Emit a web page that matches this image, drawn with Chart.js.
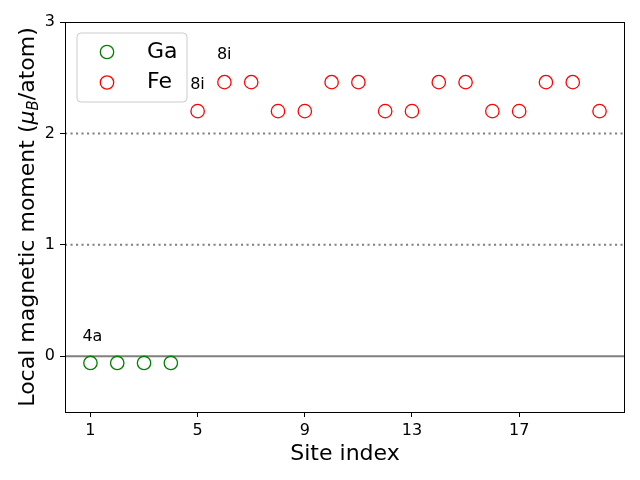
<!DOCTYPE html>
<html><head><meta charset="utf-8">
<script src="https://cdn.jsdelivr.net/npm/chart.js@4/dist/chart.umd.min.js"></script>
<style>html,body{margin:0;padding:0;background:#fff;}canvas{display:block;}</style>
</head><body>
<canvas id="c" width="640" height="480"></canvas>
<script>
const gaSites = [1, 2, 3, 4];
const gaMoments = [-0.06, -0.06, -0.06, -0.06];
const feSites = [5, 6, 7, 8, 9, 10, 11, 12, 13, 14, 15, 16, 17, 18, 19, 20];
const feMoments = [2.2, 2.46, 2.46, 2.2, 2.2, 2.46, 2.46, 2.2, 2.2, 2.46, 2.46, 2.2, 2.2, 2.46, 2.46, 2.2];
const xTicks = [1, 5, 9, 13, 17];
const yTicks = [0, 1, 2, 3];
const refLevels = [0, 1, 2];
const annLabels = ['4a', '8i', '8i'];
const annX = [0.7, 4.72, 5.72];
const annY = [0.14, 2.4, 2.67];
const xMin = 0.05, xMax = 20.95, yMin = -0.5, yMax = 3;

const FONT = 'DejaVu Sans';

function pts(xs, ys){ return xs.map((x,i)=>({x:x, y:ys[i]})); }

const refDatasets = refLevels.map(v => ({
  type: 'line',
  data: [{x:xMin, y:v}, {x:xMax, y:v}],
  borderColor: '#808080',
  borderWidth: 2,
  borderDash: v === 0 ? [] : [2.1, 3.4],
  borderCapStyle: 'butt',
  pointRadius: 0,
  fill: false,
  order: 10
}));

const decor = {
  id: 'decor',
  afterDraw(chart){
    const ctx = chart.ctx, a = chart.chartArea;
    const xs = chart.scales.x, ys = chart.scales.y;
    ctx.save();
    // frame
    ctx.strokeStyle = '#000'; ctx.lineWidth = 1;
    ctx.strokeRect(Math.round(a.left)+0.5, Math.round(a.top)+0.5, Math.round(a.right-a.left)-1, Math.round(a.bottom-a.top));
    // annotations
    ctx.fillStyle = '#000';
    ctx.font = '16px "' + FONT + '"';
    ctx.textAlign = 'left'; ctx.textBaseline = 'alphabetic';
    annLabels.forEach((t,i)=>{
      ctx.fillText(t, xs.getPixelForValue(annX[i]), ys.getPixelForValue(annY[i]));
    });
    // x title
    ctx.font = '22px "' + FONT + '"';
    ctx.textAlign = 'center'; ctx.textBaseline = 'middle';
    ctx.fillText('Site index', (a.left + a.right)/2, 454);
    // y title with subscript
    ctx.save();
    ctx.translate(26, (a.top + a.bottom)/2);
    ctx.rotate(-Math.PI/2);
    ctx.textBaseline = 'alphabetic'; ctx.textAlign = 'left';
    const parts = [
      {t:'Local magnetic moment (', f:'22px "' + FONT + '"', dy:0},
      {t:'\u03bc', f:'italic 22px "' + FONT + '"', dy:0},
      {t:'B', f:'italic 15px "' + FONT + '"', dy:4},
      {t:'/atom)', f:'22px "' + FONT + '"', dy:0}
    ];
    let w = 0;
    parts.forEach(p=>{ ctx.font = p.f; p.w = ctx.measureText(p.t).width; w += p.w; });
    let x = -w/2;
    parts.forEach(p=>{ ctx.font = p.f; ctx.fillText(p.t, x, 8 + p.dy); x += p.w; });
    ctx.restore();
    // legend
    const lx = 77, ly = 33, lw = 110, lh = 69, r = 4;
    ctx.beginPath();
    ctx.moveTo(lx+r, ly); ctx.lineTo(lx+lw-r, ly); ctx.quadraticCurveTo(lx+lw, ly, lx+lw, ly+r);
    ctx.lineTo(lx+lw, ly+lh-r); ctx.quadraticCurveTo(lx+lw, ly+lh, lx+lw-r, ly+lh);
    ctx.lineTo(lx+r, ly+lh); ctx.quadraticCurveTo(lx, ly+lh, lx, ly+lh-r);
    ctx.lineTo(lx, ly+r); ctx.quadraticCurveTo(lx, ly, lx+r, ly);
    ctx.closePath();
    ctx.fillStyle = 'rgba(255,255,255,0.8)'; ctx.fill();
    ctx.strokeStyle = '#cccccc'; ctx.lineWidth = 1; ctx.stroke();
    const items = [{t:'Ga', c:'green', y:52}, {t:'Fe', c:'red', y:82.5}];
    items.forEach(it=>{
      ctx.beginPath(); ctx.arc(107, it.y, 6.7, 0, Math.PI*2);
      ctx.strokeStyle = it.c; ctx.lineWidth = 1.3; ctx.stroke();
      ctx.fillStyle = '#000'; ctx.font = '22px "' + FONT + '"';
      ctx.textAlign = 'left'; ctx.textBaseline = 'middle';
      ctx.fillText(it.t, 147, it.y);
    });
    ctx.restore();
  }
};

new Chart(document.getElementById('c'), {
  type: 'scatter',
  data: {
    datasets: [
      {label:'Ga', data: pts(gaSites, gaMoments), pointStyle:'circle', pointRadius:6.7, pointHoverRadius:6.7,
       backgroundColor:'rgba(0,0,0,0)', borderColor:'green', pointBorderWidth:1.3, order:1},
      {label:'Fe', data: pts(feSites, feMoments), pointStyle:'circle', pointRadius:6.7, pointHoverRadius:6.7,
       backgroundColor:'rgba(0,0,0,0)', borderColor:'red', pointBorderWidth:1.3, order:1},
      ...refDatasets
    ]
  },
  options: {
    responsive: false, animation: false, devicePixelRatio: 1,
    layout: {padding: {top: 22, right: 15, left: 0, bottom: 0}},
    plugins: {legend: {display:false}, tooltip: {enabled:false}},
    scales: {
      x: {
        type: 'linear', min: xMin, max: xMax,
        afterBuildTicks: s => { s.ticks = xTicks.map(v=>({value:v})); },
        afterFit: s => { s.height = 68; },
        ticks: {color:'#000', font:{family:FONT, size:16}, padding:4, maxRotation:0, autoSkip:false},
        grid: {drawOnChartArea:false, drawTicks:true, tickLength:5, color:'#000', tickColor:'#000', tickWidth:1},
        border: {display:false}
      },
      y: {
        type: 'linear', min: yMin, max: yMax,
        afterBuildTicks: s => { s.ticks = yTicks.map(v=>({value:v})); },
        afterFit: s => { s.width = 65; },
        ticks: {color:'#000', font:{family:FONT, size:16}, padding:5},
        grid: {drawOnChartArea:false, drawTicks:true, tickLength:5, color:'#000', tickColor:'#000', tickWidth:1},
        border: {display:false}
      }
    }
  },
  plugins: [decor]
});
</script>
</body></html>
